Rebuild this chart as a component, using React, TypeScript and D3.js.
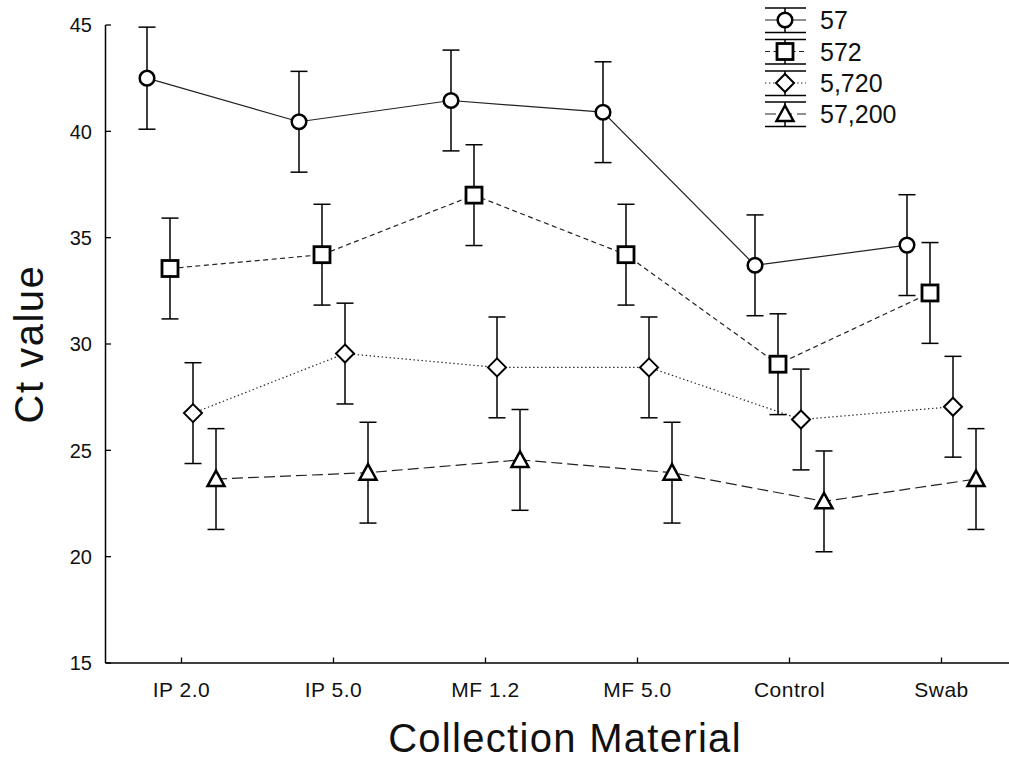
import React from "react";
import * as d3 from "d3";

const categories = ["IP 2.0", "IP 5.0", "MF 1.2", "MF 5.0", "Control", "Swab"];
const seriesNames = ["57", "572", "5,720", "57,200"];
const s57 = [42.5, 40.45, 41.45, 40.9, 33.7, 34.65];
const s572 = [33.55, 34.2, 37.0, 34.2, 29.05, 32.4];
const s5720 = [26.75, 29.55, 28.9, 28.9, 26.45, 27.05];
const s57200 = [23.65, 23.95, 24.55, 23.95, 22.6, 23.65];
const err57 = [2.4, 2.37, 2.37, 2.37, 2.37, 2.37];
const err572 = [2.37, 2.37, 2.37, 2.37, 2.37, 2.37];
const err5720 = [2.37, 2.37, 2.37, 2.37, 2.37, 2.37];
const err57200 = [2.37, 2.37, 2.37, 2.37, 2.37, 2.37];
const yTicks = [15, 20, 25, 30, 35, 40, 45];

const W = 1009;
const H = 763;
const FONT = "'Liberation Sans', Arial, sans-serif";

type Shape = "circle" | "square" | "diamond" | "triangle";
const series = [
  { name: seriesNames[0], values: s57, err: err57, shape: "circle" as Shape, dash: "none" },
  { name: seriesNames[1], values: s572, err: err572, shape: "square" as Shape, dash: "5,3.5" },
  { name: seriesNames[2], values: s5720, err: err5720, shape: "diamond" as Shape, dash: "1.4,2.6" },
  { name: seriesNames[3], values: s57200, err: err57200, shape: "triangle" as Shape, dash: "11,5" },
];

function Marker({ shape, x, y }: { shape: Shape; x: number; y: number }) {
  if (shape === "circle")
    return <circle cx={x} cy={y} r={7.3} fill="#fff" stroke="#000" strokeWidth={2.5} />;
  if (shape === "square")
    return <rect x={x - 8} y={y - 8} width={16} height={16} fill="#fff" stroke="#000" strokeWidth={2.8} />;
  if (shape === "diamond")
    return (
      <polygon
        points={`${x},${y - 9} ${x + 9},${y} ${x},${y + 9} ${x - 9},${y}`}
        fill="#fff"
        stroke="#000"
        strokeWidth={2}
      />
    );
  return (
    <polygon
      points={`${x},${y - 8.5} ${x + 8.5},${y + 7} ${x - 8.5},${y + 7}`}
      fill="#fff"
      stroke="#000"
      strokeWidth={2.5}
      strokeLinejoin="miter"
    />
  );
}

export default function App() {
  const x0 = 105.5;
  const yScale = d3.scaleLinear().domain([15, 45]).range([663, 25]);
  const xScale = d3.scaleBand<string>().domain(categories).range([x0, x0 + 152 * 6]).padding(0);
  const off = d3.scalePoint<string>().domain(seriesNames).range([-34.5, 34.5]);
  const cx = (c: string) => (xScale(c) as number) + xScale.bandwidth() / 2;

  const line = d3
    .line<[number, number]>()
    .x((d) => d[0])
    .y((d) => d[1]);

  const capW = 8.5;
  const axisY = yScale(15);

  // legend
  const legX = 785;
  const legRowY = [20, 51.5, 83, 114];
  const legTextX = 820;

  return (
    <svg
      width={W}
      height={H}
      style={{ position: "absolute", left: 0, top: 0, background: "#fff" }}
      fontFamily={FONT}
    >
      <rect x={0} y={0} width={W} height={H} fill="#fff" />
      {/* axes */}
      <line x1={x0} y1={yScale(45)} x2={x0} y2={axisY} stroke="#000" strokeWidth={1.5} />
      <line x1={x0} y1={axisY} x2={W} y2={axisY} stroke="#000" strokeWidth={1.5} />
      {yTicks.map((t) => (
        <g key={t}>
          <line x1={x0} x2={x0 + 5.5} y1={yScale(t)} y2={yScale(t)} stroke="#000" strokeWidth={1.3} />
          <text x={92} y={yScale(t)} dy="0.36em" textAnchor="end" fontSize={20} fill="#111">
            {t}
          </text>
        </g>
      ))}
      {categories.map((c) => (
        <g key={c}>
          <line x1={cx(c)} x2={cx(c)} y1={axisY} y2={axisY - 5.5} stroke="#000" strokeWidth={1.3} />
          <text x={cx(c)} y={axisY + 34} textAnchor="middle" fontSize={21} fill="#111" letterSpacing={0.5}>
            {c}
          </text>
        </g>
      ))}
      <text
        transform={`translate(43,344) rotate(-90)`}
        textAnchor="middle"
        fontSize={40}
        fill="#111"
        letterSpacing={1.5}
      >
        Ct value
      </text>
      <text x={565} y={752} textAnchor="middle" fontSize={40} fill="#111" letterSpacing={1.3}>
        Collection Material
      </text>

      {/* series lines */}
      {series.map((s) => {
        const pts = s.values.map((v, i) => [cx(categories[i]) + (off(s.name) as number), yScale(v)] as [number, number]);
        return (
          <path
            key={"l" + s.name}
            d={line(pts) as string}
            fill="none"
            stroke="#222"
            strokeWidth={1.2}
            strokeDasharray={s.dash}
          />
        );
      })}
      {/* error bars */}
      {series.map((s) =>
        s.values.map((v, i) => {
          const x = cx(categories[i]) + (off(s.name) as number);
          const yt = yScale(v + s.err[i]);
          const yb = yScale(v - s.err[i]);
          return (
            <g key={"e" + s.name + i} stroke="#000" strokeWidth={1.5}>
              <line x1={x} x2={x} y1={yt} y2={yb} />
              <line x1={x - capW} x2={x + capW} y1={yt} y2={yt} />
              <line x1={x - capW} x2={x + capW} y1={yb} y2={yb} />
            </g>
          );
        })
      )}
      {/* markers */}
      {series.map((s) =>
        s.values.map((v, i) => (
          <Marker
            key={"m" + s.name + i}
            shape={s.shape}
            x={cx(categories[i]) + (off(s.name) as number)}
            y={yScale(v)}
          />
        ))
      )}

      {/* legend */}
      {series.map((s, i) => {
        const y = legRowY[i];
        return (
          <g key={"lg" + s.name}>
            <line x1={legX - 20} x2={legX + 21} y1={y - 12} y2={y - 12} stroke="#000" strokeWidth={1.5} />
            <line x1={legX - 20} x2={legX + 21} y1={y + 12.5} y2={y + 12.5} stroke="#000" strokeWidth={1.5} />
            <line x1={legX} x2={legX} y1={y - 12} y2={y + 12.5} stroke="#000" strokeWidth={1.5} />
            <line
              x1={legX - 20}
              x2={legX + 21}
              y1={y}
              y2={y}
              stroke="#222"
              strokeWidth={1.2}
              strokeDasharray={s.dash === "none" ? "none" : s.dash}
            />
            <Marker shape={s.shape} x={legX} y={y} />
            <text x={legTextX} y={y} dy="0.36em" fontSize={25} fill="#111">
              {s.name}
            </text>
          </g>
        );
      })}
    </svg>
  );
}
